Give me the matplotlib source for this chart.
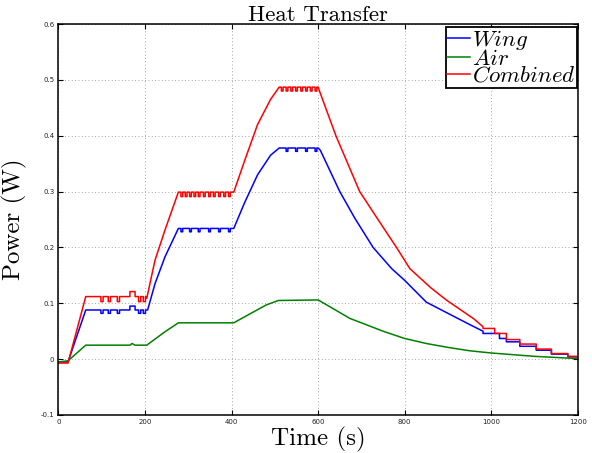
import matplotlib
matplotlib.use("Agg")
import matplotlib.pyplot as plt

# values (time in s, power in W)
t_wing = [0, 22, 63,
          98, 98, 103, 103, 115, 115, 120, 120, 136, 136, 141, 141,
          165, 165, 177, 177, 185, 185, 190, 190, 196, 196, 201, 201,
          206, 223, 246, 277,
          283, 283, 287, 287, 303, 303, 307, 307, 323, 323, 327, 327,
          347, 347, 351, 351, 370, 370, 374, 374, 393, 393, 397, 397,
          405, 430, 460, 490, 510,
          526, 526, 530, 530, 548, 548, 552, 552, 571, 571, 575, 575, 593, 593, 597, 597,
          600, 605, 650, 685, 727, 770, 800, 850, 900, 950, 981,
          981, 1019, 1019, 1035, 1035, 1066, 1066, 1104, 1104, 1139, 1139, 1177, 1177, 1200]
p_wing = [-0.005, -0.005, 0.088,
          0.088, 0.082, 0.082, 0.088, 0.088, 0.082, 0.082, 0.088, 0.088, 0.082, 0.082, 0.088,
          0.088, 0.095, 0.095, 0.088, 0.088, 0.082, 0.082, 0.088, 0.088, 0.082, 0.082, 0.088,
          0.088, 0.135, 0.183, 0.234,
          0.234, 0.228, 0.228, 0.234, 0.234, 0.228, 0.228, 0.234, 0.234, 0.228, 0.228, 0.234,
          0.234, 0.228, 0.228, 0.234, 0.234, 0.228, 0.228, 0.234, 0.234, 0.228, 0.228, 0.234,
          0.234, 0.28, 0.33, 0.365, 0.378,
          0.378, 0.372, 0.372, 0.378, 0.378, 0.372, 0.372, 0.378, 0.378, 0.372, 0.372, 0.378, 0.378, 0.372, 0.372, 0.378,
          0.378, 0.374, 0.300, 0.252, 0.200, 0.162, 0.141, 0.102, 0.082, 0.062, 0.050,
          0.046, 0.046, 0.037, 0.037, 0.031, 0.031, 0.023, 0.023, 0.016, 0.016, 0.009, 0.009, 0.004, 0.004]

t_air = [0, 22, 63, 165, 170, 177, 204, 246, 277, 405, 440, 480, 508,
         600, 640, 673, 700, 750, 800, 850, 900, 950, 1000, 1050, 1100, 1150, 1200]
p_air = [-0.005, -0.003, 0.025, 0.025, 0.028, 0.025, 0.025, 0.049, 0.065, 0.065, 0.080, 0.097, 0.105,
         0.106, 0.088, 0.073, 0.065, 0.050, 0.037, 0.028, 0.021, 0.015, 0.011, 0.008, 0.005, 0.003, 0.001]

t_comb = [0, 22, 63,
          98, 98, 103, 103, 115, 115, 120, 120, 136, 136, 141, 141,
          165, 165, 177, 177, 185, 185, 190, 190, 196, 196, 201, 201,
          204, 223, 246, 277,
          283, 283, 287, 287, 293, 293, 297, 297, 303, 303, 307, 307, 313, 313, 317, 317,
          323, 323, 327, 327, 335, 335, 339, 339, 347, 347, 351, 351, 358, 358, 362, 362,
          370, 370, 374, 374, 382, 382, 386, 386, 393, 393, 397, 397,
          405, 430, 460, 490, 510,
          515, 515, 519, 519, 526, 526, 530, 530, 537, 537, 541, 541, 548, 548, 552, 552,
          560, 560, 564, 564, 571, 571, 575, 575, 582, 582, 586, 586, 593, 593, 597, 597,
          600, 605, 641, 696, 740, 781, 812, 860, 896, 930, 960, 981,
          981, 1008, 1008, 1035, 1035, 1066, 1066, 1104, 1104, 1139, 1139, 1177, 1177, 1200]
p_comb = [-0.007, -0.007, 0.112,
          0.112, 0.103, 0.103, 0.112, 0.112, 0.103, 0.103, 0.112, 0.112, 0.103, 0.103, 0.112,
          0.112, 0.121, 0.121, 0.112, 0.112, 0.103, 0.103, 0.112, 0.112, 0.103, 0.103, 0.112,
          0.109, 0.177, 0.231, 0.299,
          0.299, 0.291, 0.291, 0.299, 0.299, 0.291, 0.291, 0.299, 0.299, 0.291, 0.291, 0.299, 0.299, 0.291, 0.291, 0.299,
          0.299, 0.291, 0.291, 0.299, 0.299, 0.291, 0.291, 0.299, 0.299, 0.291, 0.291, 0.299, 0.299, 0.291, 0.291, 0.299,
          0.299, 0.291, 0.291, 0.299, 0.299, 0.291, 0.291, 0.299, 0.299, 0.291, 0.291, 0.299,
          0.299, 0.355, 0.420, 0.465, 0.487,
          0.487, 0.480, 0.480, 0.487, 0.487, 0.480, 0.480, 0.487, 0.487, 0.480, 0.480, 0.487, 0.487, 0.480, 0.480, 0.487,
          0.487, 0.480, 0.480, 0.487, 0.487, 0.480, 0.480, 0.487, 0.487, 0.480, 0.480, 0.487, 0.487, 0.480, 0.480, 0.487,
          0.487, 0.476, 0.400, 0.300, 0.248, 0.200, 0.162, 0.128, 0.106, 0.088, 0.072, 0.058,
          0.055, 0.055, 0.046, 0.046, 0.035, 0.035, 0.027, 0.027, 0.018, 0.018, 0.010, 0.010, 0.005, 0.005]

x_ticks = [0, 200, 400, 600, 800, 1000, 1200]
y_ticks = [-0.1, 0, 0.1, 0.2, 0.3, 0.4, 0.5, 0.6]
y_tick_labels = ["-0.1", "0", "0.1", "0.2", "0.3", "0.4", "0.5", "0.6"]

plt.rcParams['mathtext.fontset'] = 'cm'
plt.rcParams['axes.unicode_minus'] = False

fig = plt.figure(figsize=(5.92, 4.53), dpi=100)
ax = fig.add_axes([0.0988, 0.0839, 0.8772, 0.8631])

ax.plot(t_wing, p_wing, color=(0, 0, 1), lw=1.1, label='$Wing$')
ax.plot(t_air, p_air, color=(0, 0.5, 0), lw=1.1, label='$Air$')
ax.plot(t_comb, p_comb, color=(1, 0, 0), lw=1.1, label='$Combined$')

ax.set_xlim(0, 1200)
ax.set_ylim(-0.1, 0.6)
ax.set_xticks(x_ticks)
ax.set_yticks(y_ticks)
ax.set_yticklabels(y_tick_labels)
ax.tick_params(direction='in', length=3.5, width=0.8, labelsize=5,
               top=True, right=True, pad=3, labelcolor='#222222')
ax.grid(True, linestyle=(0, (1, 3)), color='#888888', lw=0.6)
for s in ax.spines.values():
    s.set_linewidth(1.1)

ax.set_title('Heat Transfer', family='cmr10', fontsize=16.5, pad=2)
ax.set_xlabel('Time (s)', family='cmr10', fontsize=18, labelpad=1)
ax.set_ylabel('Power (W)', family='cmr10', fontsize=18)
ax.yaxis.set_label_coords(-0.061, 0.5)

leg = ax.legend(loc='upper right', bbox_to_anchor=(0.998, 0.992), borderaxespad=0,
                fontsize=16.5, handlelength=1.0, handletextpad=0.1, labelspacing=-0.25,
                borderpad=0.05, fancybox=False, framealpha=1, edgecolor='black')
leg.get_frame().set_linewidth(1.3)

fig.savefig('out.png', dpi=100)
